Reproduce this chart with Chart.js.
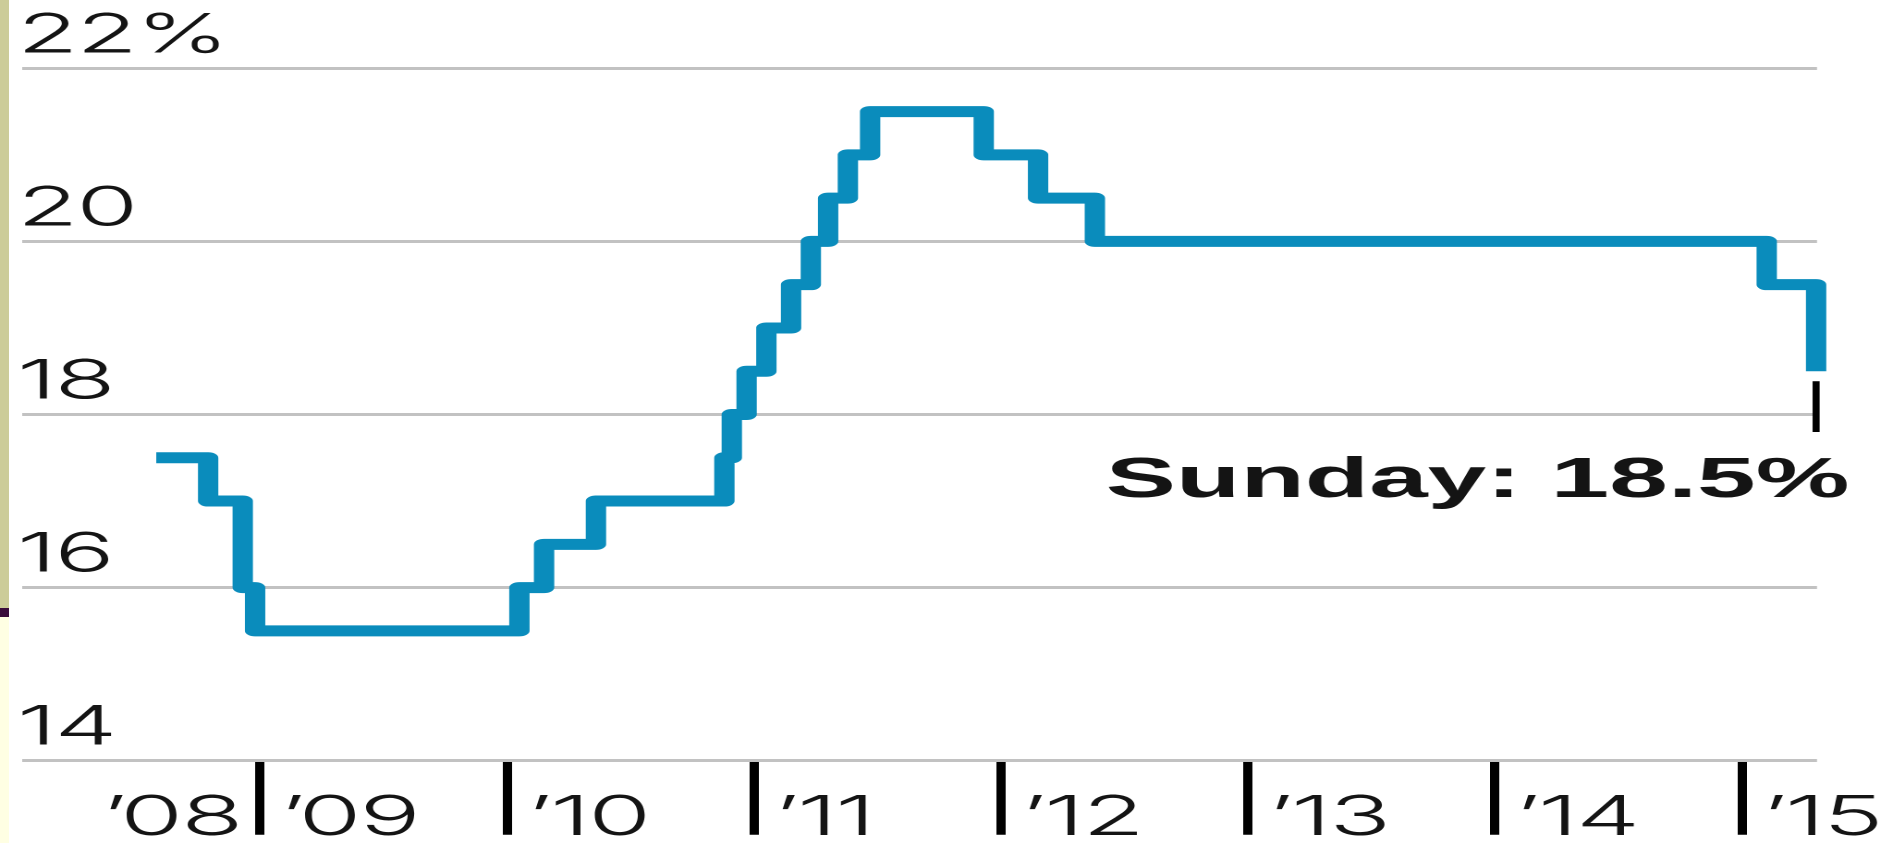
<!DOCTYPE html>
<html>
<head>
<meta charset="utf-8">
<script src="https://cdn.jsdelivr.net/npm/chart.js@4.4.1/dist/chart.umd.min.js"></script>
<style>
  html, body { margin: 0; padding: 0; background: #fff; overflow: hidden; }
  /* the original graphic is stretched sideways, so the whole canvas is too */
  #stage { position: absolute; left: 0; top: 0; width: 1024px; height: 843px; transform-origin: 0 0; transform: scaleX(1.8486); }
  .strip { position: absolute; left: 0; width: 9px; }
</style>
</head>
<body>
<div id="stage"><canvas id="chart" width="1024" height="843"></canvas></div>
<div class="strip" style="top:0;height:608px;background:#cccc99"></div>
<div class="strip" style="top:608px;height:9px;background:#3a0c3a"></div>
<div class="strip" style="top:617px;height:226px;background:#ffffe3"></div>
<script>
// dates as decimal years, each point = new level from that date
const rateDates = [2008.58, 2008.79, 2008.93, 2008.98, 2010.05, 2010.15, 2010.36, 2010.88, 2010.91, 2010.97,
                   2011.05, 2011.15, 2011.23, 2011.30, 2011.38, 2011.47, 2011.93, 2012.15, 2012.38, 2015.10, 2015.30];
const rateValues = [17.5, 17, 16, 15.5, 16, 16.5, 17, 17.5, 18, 18.5,
                    19, 19.5, 20, 20.5, 21, 21.5, 21, 20.5, 20, 19.5, 18.5];
const yTickLabels = ['14', '16', '18', '20', '22%'];
const yearTicks = [2009, 2010, 2011, 2012, 2013, 2014, 2015];
const yearLabels = ['’08', '’09', '’10', '’11', '’12', '’13', '’14', '’15'];
const latestLabel = 'Sunday: 18.5%';

const textPlugin = {
    id: 'textPlugin',
    afterDraw(chart) {
        const ctx = chart.ctx;
        const x = chart.scales.x;
        const y = chart.scales.y;
        ctx.save();
        ctx.fillStyle = '#141414';
        ctx.textBaseline = 'alphabetic';

        // y labels sit above their grid line
        ctx.font = '300 54px Inter';
        ctx.textAlign = 'left';
        ctx.letterSpacing = '-1px';
        y.ticks.forEach((t, i) => {
            ctx.fillText(yTickLabels[i], 9.2, y.getPixelForValue(t.value) - 16);
        });

        // year labels: '08 before the first tick, the rest after their tick
        ctx.font = '300 55px Inter';
        yearLabels.forEach((lbl, i) => {
            if (i === 0) {
                ctx.textAlign = 'right';
                ctx.fillText(lbl, x.getPixelForValue(yearTicks[0]) - 10, 835);
            } else {
                ctx.textAlign = 'left';
                ctx.fillText(lbl, x.getPixelForValue(yearTicks[i - 1]) + 11, 835);
            }
        });
        ctx.letterSpacing = '0px';

        // marker + label for the latest value
        const last = rateDates.length - 1;
        const px = x.getPixelForValue(rateDates[last]);
        const py = y.getPixelForValue(rateValues[last]);
        ctx.strokeStyle = '#000';
        ctx.lineWidth = 3.8;
        ctx.beginPath();
        ctx.moveTo(px, py + 10);
        ctx.lineTo(px, 432);
        ctx.stroke();

        ctx.font = 'bold 57px "Liberation Sans"';
        ctx.textAlign = 'right';
        ctx.fillText(latestLabel, px + 18, 497);
        ctx.restore();
    }
};

new Chart(document.getElementById('chart'), {
    type: 'line',
    data: {
        datasets: [{
            data: rateDates.map((d, i) => ({ x: d, y: rateValues[i] })),
            borderColor: '#0a8cbc',
            borderWidth: 11,
            borderJoinStyle: 'round',
            stepped: true,
            pointRadius: 0,
            fill: false,
            clip: false
        }]
    },
    options: {
        responsive: false,
        devicePixelRatio: 2,
        animation: false,
        layout: {
            autoPadding: false,
            padding: { left: 11.9, right: 41.1, top: 68.3, bottom: 8.3 }
        },
        plugins: {
            legend: { display: false },
            tooltip: { enabled: false }
        },
        scales: {
            x: {
                type: 'linear',
                min: 2008.0364,
                max: 2015.3036,
                afterBuildTicks: (scale) => {
                    scale.ticks = yearTicks.map(v => ({ value: v }));
                },
                ticks: { display: false },
                border: { display: false },
                grid: {
                    drawOnChartArea: false,
                    drawTicks: true,
                    tickLength: 74,
                    tickWidth: 5,
                    tickColor: '#000'
                }
            },
            y: {
                min: 14,
                max: 22,
                ticks: { display: false, stepSize: 2 },
                border: { display: false },
                grid: {
                    drawTicks: false,
                    color: '#c2c2c2',
                    lineWidth: 3
                }
            }
        }
    },
    plugins: [textPlugin]
});
</script>
</body>
</html>
